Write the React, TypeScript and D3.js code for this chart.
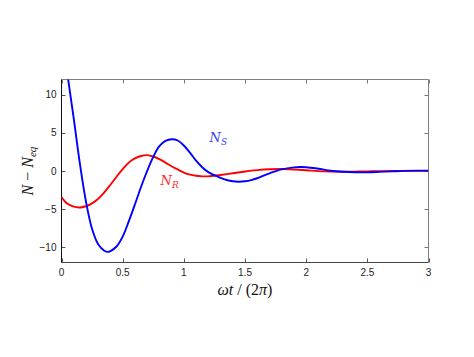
import React, { useEffect, useRef } from "react";
import * as d3 from "d3";

// sample times (omega t / 2pi) and values
const tS = [0, 0.05, 0.1, 0.15, 0.2, 0.25, 0.3, 0.35, 0.38, 0.4, 0.45, 0.5, 0.55, 0.6, 0.65, 0.7, 0.75, 0.8, 0.85, 0.9, 0.95, 1.0, 1.05, 1.1, 1.15, 1.2, 1.25, 1.3, 1.35, 1.4, 1.45, 1.5, 1.55, 1.6, 1.7, 1.8, 1.9, 1.95, 2.0, 2.1, 2.2, 2.3, 2.4, 2.5, 2.6, 2.7, 2.8, 2.9, 3.0];
const nS = [17.5, 12.5, 6.9, 1.0, -4.0, -7.6, -9.6, -10.45, -10.6, -10.5, -9.9, -8.6, -6.6, -4.4, -2.1, 0.0, 1.85, 3.25, 3.95, 4.17, 4.0, 3.35, 2.4, 1.35, 0.5, -0.15, -0.55, -0.9, -1.18, -1.35, -1.4, -1.35, -1.2, -0.95, -0.3, 0.22, 0.48, 0.52, 0.5, 0.3, 0.05, -0.1, -0.17, -0.18, -0.12, -0.05, 0.02, 0.05, 0.05];

const tR = [0, 0.05, 0.1, 0.15, 0.2, 0.25, 0.3, 0.35, 0.4, 0.45, 0.5, 0.55, 0.6, 0.65, 0.7, 0.75, 0.8, 0.85, 0.9, 0.95, 1.0, 1.05, 1.1, 1.15, 1.2, 1.25, 1.3, 1.4, 1.5, 1.6, 1.7, 1.8, 1.9, 2.0, 2.1, 2.2, 2.3, 2.4, 2.5, 2.6, 2.8, 3.0];
const nR = [-3.44, -4.3, -4.68, -4.78, -4.62, -4.25, -3.65, -2.8, -1.8, -0.75, 0.25, 1.1, 1.65, 1.97, 2.08, 1.9, 1.55, 1.1, 0.62, 0.2, -0.2, -0.48, -0.63, -0.7, -0.7, -0.63, -0.52, -0.3, -0.06, 0.12, 0.23, 0.26, 0.2, 0.1, -0.02, -0.08, -0.1, -0.08, -0.05, -0.02, 0.01, 0.02];

const xTicks = [0, 0.5, 1, 1.5, 2, 2.5, 3];
const yTicks = [-10, -5, 0, 5, 10];

const W = 474;
const H = 357;

export default function App() {
  const ref = useRef<SVGSVGElement>(null);

  useEffect(() => {
    const svg = d3.select(ref.current);
    svg.selectAll("*").remove();

    const m = { left: 61.5, right: 428.5, top: 79.5, bottom: 262.5 };
    const x = d3.scaleLinear().domain([0, 3]).range([m.left, m.right]);
    const y = d3.scaleLinear().domain([-12, 12]).range([m.bottom, m.top]);

    svg.append("rect").attr("width", W).attr("height", H).attr("fill", "#fff");

    svg
      .append("defs")
      .append("clipPath")
      .attr("id", "plot-clip")
      .append("rect")
      .attr("x", m.left)
      .attr("y", m.top)
      .attr("width", m.right - m.left)
      .attr("height", m.bottom - m.top);

    const tickLen = 4;
    const g = svg.append("g");

    // ticks inside the box, all four sides
    xTicks.forEach((t) => {
      const px = Math.round(x(t)) + 0.5;
      g.append("line").attr("x1", px).attr("x2", px).attr("y1", m.bottom).attr("y2", m.bottom - tickLen).attr("stroke", "#555");
      g.append("line").attr("x1", px).attr("x2", px).attr("y1", m.top).attr("y2", m.top + tickLen).attr("stroke", "#777");
      g.append("text")
        .attr("x", x(t))
        .attr("y", m.bottom + 13)
        .attr("text-anchor", "middle")
        .attr("font-family", "Liberation Sans, Arial, sans-serif")
        .attr("font-size", 10)
        .attr("fill", "#222")
        .text(String(t));
    });
    yTicks.forEach((v) => {
      const py = Math.round(y(v)) + 0.5;
      g.append("line").attr("x1", m.left).attr("x2", m.left + tickLen).attr("y1", py).attr("y2", py).attr("stroke", "#555");
      g.append("line").attr("x1", m.right).attr("x2", m.right - tickLen).attr("y1", py).attr("y2", py).attr("stroke", "#777");
      g.append("text")
        .attr("x", m.left - 5)
        .attr("y", y(v) + 3.5)
        .attr("text-anchor", "end")
        .attr("font-family", "Liberation Sans, Arial, sans-serif")
        .attr("font-size", 10)
        .attr("fill", "#222")
        .text(v < 0 ? `\u2212${-v}` : String(v));
    });

    // box
    g.append("line").attr("x1", m.left).attr("x2", m.right).attr("y1", m.top).attr("y2", m.top).attr("stroke", "#808080");
    g.append("line").attr("x1", m.right).attr("x2", m.right).attr("y1", m.top).attr("y2", m.bottom).attr("stroke", "#808080");
    g.append("line").attr("x1", m.left).attr("x2", m.right).attr("y1", m.bottom).attr("y2", m.bottom).attr("stroke", "#444");
    g.append("line").attr("x1", m.left).attr("x2", m.left).attr("y1", m.top).attr("y2", m.bottom).attr("stroke", "#111");

    const line = (ts: number[]) =>
      d3
        .line<number>()
        .x((_, i) => x(ts[i]))
        .y((d) => y(d))
        .curve(d3.curveCatmullRom.alpha(0.5));

    const curves = svg.append("g").attr("clip-path", "url(#plot-clip)");
    curves
      .append("path")
      .attr("d", line(tR)(nR))
      .attr("fill", "none")
      .attr("stroke", "#ff0000")
      .attr("stroke-width", 1.9);
    curves
      .append("path")
      .attr("d", line(tS)(nS))
      .attr("fill", "none")
      .attr("stroke", "#0000ff")
      .attr("stroke-width", 1.9);

    // curve labels
    const lab = (px: number, py: number, color: string, sub: string) => {
      const t = svg
        .append("text")
        .attr("x", px)
        .attr("y", py)
        .attr("font-family", "DejaVu Serif, Liberation Serif, serif")
        .attr("font-style", "italic")
        .attr("font-size", 13)
        .attr("fill", color);
      t.append("tspan").text("N");
      t.append("tspan").attr("dy", 3).attr("font-size", 9).text(sub);
    };
    lab(x(1.21), y(3.8), "#3a3aff", "S");
    lab(x(0.81), y(-1.9), "#ff2a2a", "R");

    // axis labels
    const xl = svg
      .append("text")
      .attr("x", (m.left + m.right) / 2)
      .attr("y", 295)
      .attr("text-anchor", "middle")
      .attr("font-family", "Liberation Serif, DejaVu Serif, serif")
      .attr("font-size", 16)
      .attr("fill", "#111");
    xl.append("tspan").attr("font-style", "italic").text("\u03c9t");
    xl.append("tspan").text(" / (2");
    xl.append("tspan").attr("font-style", "italic").text("\u03c0");
    xl.append("tspan").text(")");

    const yl = svg
      .append("text")
      .attr("transform", `translate(33, ${(m.top + m.bottom) / 2}) rotate(-90)`)
      .attr("text-anchor", "middle")
      .attr("font-family", "Liberation Serif, DejaVu Serif, serif")
      .attr("font-size", 16)
      .attr("fill", "#111");
    yl.append("tspan").attr("font-style", "italic").text("N");
    yl.append("tspan").text(" \u2212 ");
    yl.append("tspan").attr("font-style", "italic").text("N");
    yl.append("tspan").attr("font-style", "italic").attr("font-size", 11).attr("dy", 3).text("eq");
  }, []);

  return (
    <svg
      ref={ref}
      width={W}
      height={H}
      style={{ position: "absolute", left: 0, top: 0, display: "block" }}
    />
  );
}
